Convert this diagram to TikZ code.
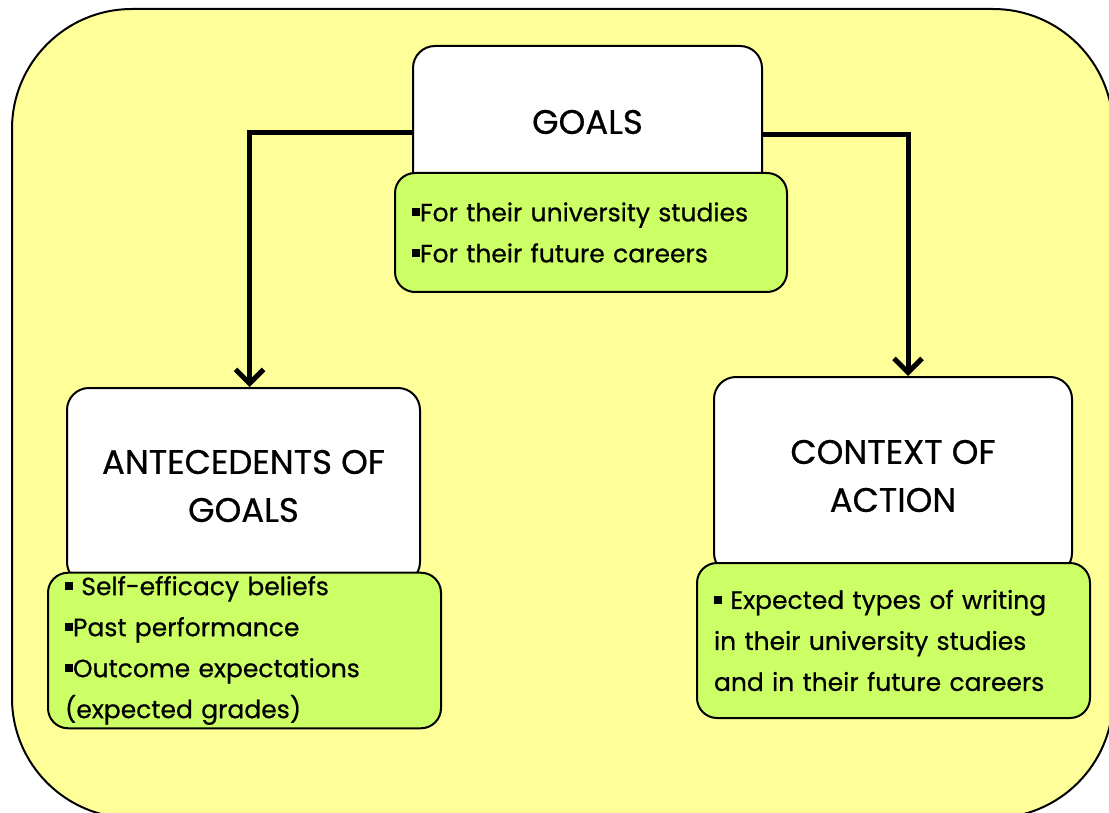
\documentclass[tikz,border=0pt]{standalone}
\usepackage{fontspec}
\setmainfont{Poppins}
\newfontfamily\boxfont{Poppins}[FakeBold=0.6]
\usetikzlibrary{arrows.meta,positioning}
\definecolor{bgyellow}{HTML}{FFFF99}
\definecolor{listgreen}{HTML}{CCFF66}
\newcommand{\sqbullet}{\rule[5pt]{8pt}{8pt}}
\tikzset{
  headbox/.style={draw, line width=2pt, fill=white, rounded corners=22pt,
    align=center, font=\boxfont\fontsize{34}{48}\selectfont},
  listbox/.style={draw, line width=2pt, fill=listgreen, rounded corners=20pt,
    align=left, inner xsep=17pt, font=\boxfont\fontsize{25}{41}\selectfont},
  flowarrow/.style={line width=5pt, -{Straight Barb[length=14pt,width=28pt,line width=5pt]}}
}
\begin{document}
\begin{tikzpicture}[x=1pt,y=-1pt]
\useasboundingbox (0,0) rectangle (1109,813);
% background frame
\draw[line width=2pt, fill=bgyellow, rounded corners=120pt] (12,9) rectangle (1113,818);
% headings
\node[headbox, minimum width=349pt, minimum height=152pt] (goals) at (587.5,122) {GOALS};
\node[headbox, minimum width=353pt, minimum height=196pt] (antec) at (243.5,486) {ANTECEDENTS OF\\GOALS};
\node[headbox, minimum width=358pt, minimum height=198pt] (context) at (893,476) {CONTEXT OF\\ACTION};
% lists
\node[listbox, minimum width=392pt, minimum height=119pt, text width=358pt] (goalslist) at (591,232.5)
  {\sqbullet For their university studies\\\sqbullet For their future careers};
\node[listbox, minimum width=393pt, minimum height=155pt, text width=359pt] (antlist) at (244.5,650.5)
  {\sqbullet\ Self-efficacy beliefs\\\sqbullet Past performance\\\sqbullet Outcome expectations\\(expected grades)};
\node[listbox, minimum width=393pt, minimum height=155pt, text width=359pt] (ctxlist) at (893.5,640.5)
  {\sqbullet\ Expected types of writing\\in their university studies\\and in their future careers};
% arrows
\draw[flowarrow] ([yshift=-11pt]goals.west) -| ([xshift=6pt]antec.north);
\draw[flowarrow] ([yshift=-13pt]goals.east) -| ([xshift=15pt]context.north);
\end{tikzpicture}
\end{document}
